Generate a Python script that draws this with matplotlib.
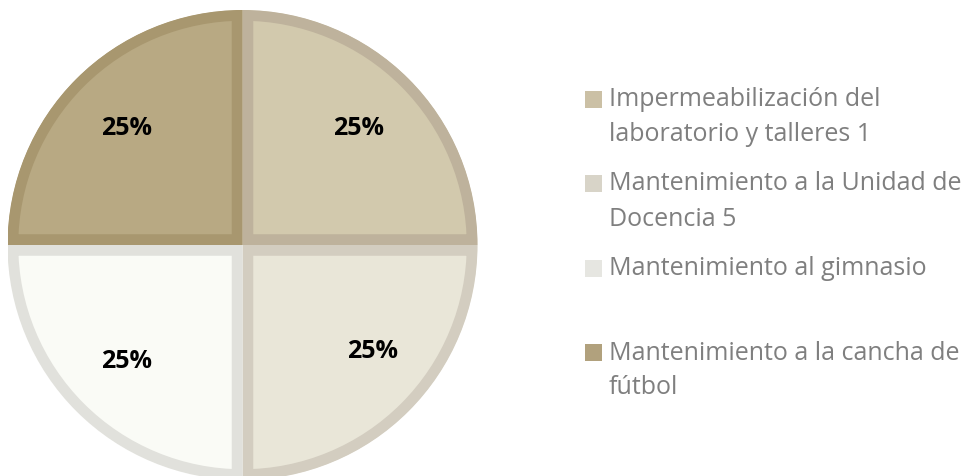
import textwrap
import matplotlib
matplotlib.use("Agg")
import matplotlib.pyplot as plt
from matplotlib.patches import Rectangle

# Data
categories = [
    "Impermeabilización del laboratorio y talleres 1",
    "Mantenimiento a la Unidad de Docencia 5",
    "Mantenimiento al gimnasio",
    "Mantenimiento a la cancha de fútbol",
]
values = [25, 25, 25, 25]

# Styling
fill_colors = ["#D2C9AD", "#E9E6D8", "#FAFBF6", "#B8A983"]
edge_colors = ["#BEB29C", "#D3CDC0", "#E1E1DC", "#A8976F"]
legend_colors = ["#CBC0A5", "#D8D4C8", "#E6E6E1", "#B1A17D"]
text_gray = "#7F7F7F"

W, H = 965, 476
fig = plt.figure(figsize=(W / 100, H / 100), dpi=100)
fig.patch.set_facecolor("white")

# Pie axes placed in pixel units (center ~ (242.5, 245) from top-left, radius 235)
cx, cy, r = 242.5, 245.0, 235.0
ax = fig.add_axes([(cx - r) / W, (H - cy - r) / H, 2 * r / W, 2 * r / H])

wedges, _, autotexts = ax.pie(
    values,
    colors=fill_colors,
    startangle=90,
    counterclock=False,
    radius=1,
    autopct="%1.0f%%",
    pctdistance=0.7,
    textprops=dict(fontsize=18, fontweight="bold", color="black",
                   family=["Open Sans", "DejaVu Sans"]),
    wedgeprops=dict(linewidth=15.5),
)
ax.set_xlim(-1, 1)
ax.set_ylim(-1, 1)
ax.set_aspect("equal")
ax.axis("off")

# inner border: stroke each wedge and clip the stroke to the wedge itself
for w, ec in zip(wedges, edge_colors):
    w.set_edgecolor(ec)
    w.set_clip_on(True)
    w.set_clip_path(w)

# small nudge of the lower-right label
x0, y0 = autotexts[1].get_position()
autotexts[1].set_position((x0 + 0.06, y0 + 0.04))

# Legend drawn on the figure in pixel units
def fx(px):
    return px / W

def fy(py):
    return 1 - py / H

sq = 17
row0, row_step = 99.0, 84.5
line_step = 35.0
for i, (label, col) in enumerate(zip(categories, legend_colors)):
    yc = row0 + i * row_step
    fig.patches.append(Rectangle((fx(585), fy(yc + sq / 2)), sq / W, sq / H,
                                 transform=fig.transFigure, facecolor=col,
                                 edgecolor="none"))
    for j, line in enumerate(textwrap.wrap(label, 28)):
        fig.text(fx(609), fy(yc + 7 + j * line_step), line,
                 fontsize=18, color=text_gray, va="baseline", ha="left",
                 family=["Open Sans", "DejaVu Sans"])

fig.savefig("out.png", dpi=100, facecolor="white")
